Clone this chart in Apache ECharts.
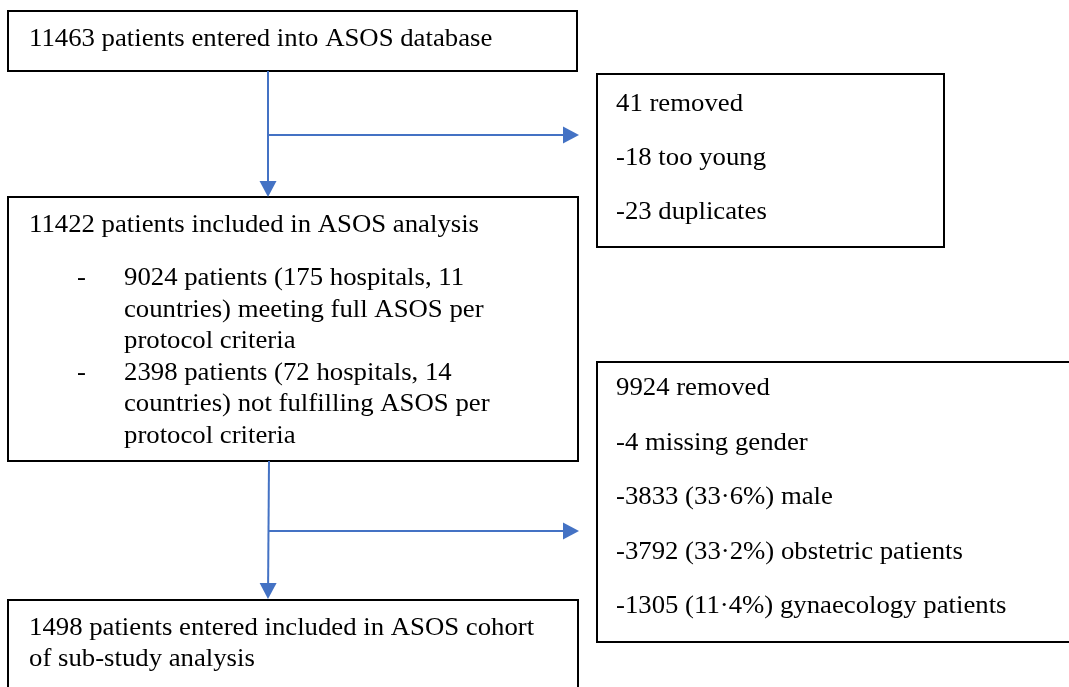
<!DOCTYPE html>
<html>
<head>
<meta charset="utf-8">
<script src="https://cdn.jsdelivr.net/npm/echarts@6/dist/echarts.min.js"></script>
<style>
  html, body { margin: 0; padding: 0; background: #fff; }
  #chart { width: 1069px; height: 687px; }
</style>
</head>
<body>
<div id="chart"></div>
<script>
// flow chart texts
const mainSteps = [
  ['11463 patients entered into ASOS database'],
  ['11422 patients included in ASOS analysis'],
  ['1498 patients entered included in ASOS cohort', 'of sub-study analysis']
]
const subGroups = [
  ['9024 patients (175 hospitals, 11', 'countries) meeting full ASOS per', 'protocol criteria'],
  ['2398 patients (72 hospitals, 14', 'countries) not fulfilling ASOS per', 'protocol criteria']
]
const exclusions = [
  ['41 removed', '-18 too young', '-23 duplicates'],
  ['9924 removed', '-4 missing gender', '-3833 (33·6%) male', '-3792 (33·2%) obstetric patients', '-1305 (11·4%) gynaecology patients']
]

// layout (page pixels)
const FONT = '25px "Liberation Serif", "Times New Roman", serif'
const STRETCH = 1.07 // the original figure is a bit wider than tall
const boxLayout = [
  { rect: [8, 11, 577, 71], x: 29, y: 39, gap: 31 },
  { rect: [8, 197, 578, 461], x: 29, y: 225.5, gap: 31 },
  { rect: [8, 600, 578, 700], x: 29, y: 628, gap: 31.5 },
  { rect: [597, 74, 944, 247], x: 616, y: 104, gap: 54.3 },
  { rect: [597, 362, 1080, 642], x: 616, y: 388.5, gap: 54.6 }
]
const subLayout = { dash: 77, x: 124, y: 278.5, gap: 31.5 }
const arrowLayout = [
  [268, 71, 268, 197],
  [268, 135, 579, 135],
  [269, 461, 268, 599],
  [269, 531, 579, 531]
]

const boxLines = [
  mainSteps[0], mainSteps[1], mainSteps[2], exclusions[0], exclusions[1]
]

const chart = echarts.init(document.getElementById('chart'))

function textEl(text, p) {
  return {
    type: 'text',
    x: p[0],
    y: p[1],
    scaleX: STRETCH,
    style: { text, x: 0, y: 0, fill: '#000', font: FONT, align: 'left', verticalAlign: 'middle' }
  }
}

const option = {
  animation: false,
  grid: { left: 0, right: 0, top: 0, bottom: 0 },
  xAxis: { type: 'value', min: 0, max: 1069, show: false },
  yAxis: { type: 'value', min: 0, max: 687, inverse: true, show: false },
  series: [
    {
      type: 'custom',
      clip: false,
      data: boxLayout.map((b, i) => [i]),
      renderItem(params, api) {
        const k = api.value(0)
        const b = boxLayout[k]
        const p0 = api.coord([b.rect[0], b.rect[1]])
        const p1 = api.coord([b.rect[2], b.rect[3]])
        const children = [{
          type: 'rect',
          shape: { x: p0[0], y: p0[1], width: p1[0] - p0[0], height: p1[1] - p0[1] },
          style: { fill: '#fff', stroke: '#000', lineWidth: 2 }
        }]
        boxLines[k].forEach((t, i) => {
          children.push(textEl(t, api.coord([b.x, b.y + i * b.gap])))
        })
        if (k === 1) {
          let row = 0
          subGroups.forEach(g => {
            g.forEach((t, j) => {
              const yy = subLayout.y + row * subLayout.gap
              if (j === 0) children.push(textEl('-', api.coord([subLayout.dash, yy])))
              children.push(textEl(t, api.coord([subLayout.x, yy])))
              row++
            })
          })
        }
        return { type: 'group', children }
      }
    },
    {
      type: 'custom',
      clip: false,
      data: arrowLayout.map((a, i) => [i]),
      renderItem(params, api) {
        const a = arrowLayout[api.value(0)]
        const s = api.coord([a[0], a[1]])
        const e = api.coord([a[2], a[3]])
        const ang = Math.atan2(e[1] - s[1], e[0] - s[0])
        const len = 16, half = 8.5
        const bx = e[0] - len * Math.cos(ang)
        const by = e[1] - len * Math.sin(ang)
        const nx = -Math.sin(ang) * half, ny = Math.cos(ang) * half
        return {
          type: 'group',
          children: [
            {
              type: 'line',
              shape: { x1: s[0], y1: s[1], x2: bx, y2: by },
              style: { stroke: '#4472C4', lineWidth: 2 }
            },
            {
              type: 'polygon',
              shape: { points: [[e[0], e[1]], [bx + nx, by + ny], [bx - nx, by - ny]] },
              style: { fill: '#4472C4' }
            }
          ]
        }
      }
    }
  ]
}

chart.setOption(option)
</script>
</body>
</html>
